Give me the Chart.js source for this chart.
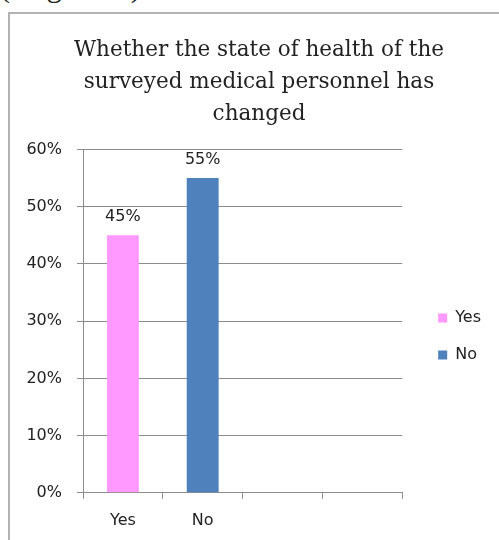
<!DOCTYPE html>
<html>
<head>
<meta charset="utf-8">
<script src="https://cdn.jsdelivr.net/npm/chart.js@4.4.0/dist/chart.umd.min.js"></script>
<style>
  html, body { margin: 0; padding: 0; background: #fff; overflow: hidden; }
  body { width: 499px; height: 540px; position: relative; }
  #caption { position: absolute; left: 0; top: -27px; font: 30px/28px "Liberation Serif", serif; color: #222; white-space: nowrap; }
  #frame { position: absolute; left: 8px; top: 12px; width: 520px; height: 600px; border-left: 2px solid #b3b3b3; border-top: 2px solid #b3b3b3; }
  #wrap { position: absolute; left: 0; top: 0; width: 499px; height: 542px; }
</style>
</head>
<body>
<div id="caption">(diagram 1).</div>
<div id="frame"></div>
<div id="wrap"><canvas id="myChart" width="499" height="542"></canvas></div>
<script>
// chart data
var titleLines = ['Whether the state of health of the', 'surveyed medical personnel has', 'changed'];
var categories = ['Yes', 'No', '', ''];
var shares = [45, 55, null, null];
var barColors = ['#FF99FF', '#4F81BD'];
var legendNames = ['Yes', 'No'];
var yMax = 60;
var yStep = 10;

var gridGray = '#8c8c8c';
var textDark = '#222222';
var sansFont = 'DejaVu Sans';

// value labels above the bars
var valueLabels = {
    id: 'valueLabels',
    afterDatasetsDraw: function(chart) {
        var ctx = chart.ctx;
        var meta = chart.getDatasetMeta(0);
        ctx.save();
        ctx.font = '16px "' + sansFont + '"';
        ctx.fillStyle = textDark;
        ctx.textAlign = 'center';
        ctx.textBaseline = 'alphabetic';
        meta.data.forEach(function(bar, i) {
            var v = shares[i];
            if (v === null) return;
            ctx.fillText(v + '%', bar.x, bar.y - 14);
        });
        ctx.restore();
    }
};

var ctx = document.getElementById('myChart').getContext('2d');
var myChart = new Chart(ctx, {
    type: 'bar',
    data: {
        labels: categories,
        datasets: [{
            data: shares,
            backgroundColor: barColors,
            borderWidth: 0,
            barPercentage: 0.4,
            categoryPercentage: 1
        }]
    },
    options: {
        responsive: false,
        animation: false,
        layout: { padding: { top: 0, left: 27, right: 8, bottom: 0 } },
        plugins: {
            title: {
                display: true,
                text: titleLines,
                color: textDark,
                font: { family: 'DejaVu Serif', size: 21.5, weight: 'normal', lineHeight: 32 / 21.5 },
                padding: { top: 34, bottom: 19.5 }
            },
            legend: {
                position: 'right',
                fullSize: false,
                align: 'center',
                title: { display: true, text: '', padding: 0, font: { size: 10, lineHeight: 3.05 } },
                labels: {
                    boxWidth: 9,
                    boxHeight: 9,
                    padding: 21,
                    color: textDark,
                    font: { family: sansFont, size: 16 },
                    generateLabels: function() {
                        return legendNames.map(function(name, i) {
                            return { text: name, fillStyle: barColors[i], strokeStyle: barColors[i], fontColor: textDark, lineWidth: 0, hidden: false, index: i };
                        });
                    }
                }
            },
            tooltip: { enabled: false }
        },
        scales: {
            x: {
                grid: { drawOnChartArea: false, drawTicks: true, tickLength: 6, color: gridGray },
                border: { display: true, color: gridGray },
                ticks: { color: textDark, font: { family: sansFont, size: 16 }, padding: 12 }
            },
            y: {
                min: 0,
                max: yMax,
                grid: { color: gridGray, tickLength: 6 },
                border: { display: true, color: gridGray },
                ticks: {
                    stepSize: yStep,
                    color: textDark,
                    font: { family: sansFont, size: 16 },
                    padding: 15,
                    callback: function(v) { return v + '%'; }
                },
                afterFit: function(scale) { scale.width = 56; }
            },
            // empty axis that only keeps a gap between the plot and the legend
            gap: {
                type: 'linear',
                position: 'right',
                display: true,
                grid: { display: false },
                border: { display: false },
                ticks: { display: false },
                afterFit: function(scale) { scale.width = 15; }
            }
        }
    },
    plugins: [valueLabels]
});
</script>
</body>
</html>
